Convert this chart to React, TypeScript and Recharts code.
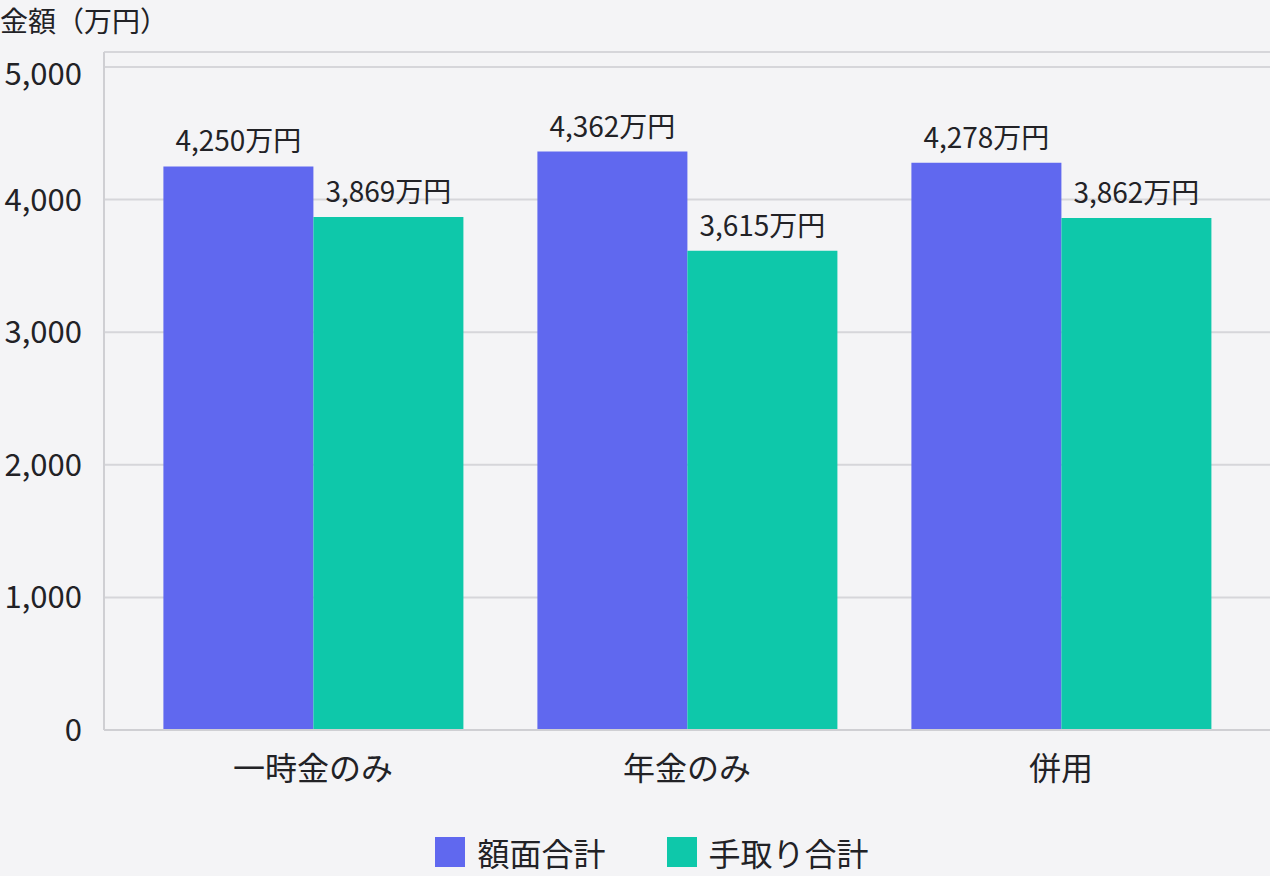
import { Bar, BarChart, CartesianGrid, LabelList, Legend, XAxis, YAxis } from 'recharts';

const categories = ['一時金のみ', '年金のみ', '併用'];
const grossTotal = [4250, 4362, 4278];
const netTotal = [3869, 3615, 3862];
const yTicks = [0, 1000, 2000, 3000, 4000, 5000];

const series = [
  { key: 'gross', name: '額面合計', color: '#6068ef' },
  { key: 'net', name: '手取り合計', color: '#0ec8aa' },
];

const rows = categories.map((name, i) => ({ name, gross: grossTotal[i], net: netTotal[i] }));

const font = '"Noto Sans CJK JP", "Noto Sans", sans-serif';
const ink = '#222226';

function LegendBox() {
  return (
    <div style={{ display: 'flex', justifyContent: 'center', paddingTop: 6, paddingLeft: 34, height: 46, boxSizing: 'border-box' }}>
      {series.map((s) => (
        <div key={s.key} style={{ display: 'flex', alignItems: 'center', height: 32, marginRight: s.key === 'gross' ? 61 : 0 }}>
          <span style={{ width: 30, height: 30, background: s.color, display: 'inline-block', marginRight: 12 }} />
          <span style={{ fontFamily: font, fontSize: 32, color: ink, lineHeight: '32px' }}>{s.name}</span>
        </div>
      ))}
    </div>
  );
}

// top label sits a little below its gridline in the original
function YTick({ x, y, payload }: { x: number; y: number; payload: { value: number } }) {
  const shift = payload.value === yTicks[yTicks.length - 1] ? 7 : 0;
  return (
    <text x={x} y={y + shift} dy="0.355em" textAnchor="end" fill={ink} fontSize={31} fontFamily={font}>
      {payload.value.toLocaleString('en-US')}
    </text>
  );
}

export default function App() {
  return (
    <div style={{ position: 'absolute', left: 0, top: 0, width: 1270, height: 876, background: '#f4f4f6', fontFamily: font }}>
      <div style={{ position: 'absolute', left: 0, top: 1, fontSize: 28, color: ink, lineHeight: '38px' }}>金額（万円）</div>
      <BarChart
        width={1270}
        height={876}
        data={rows}
        margin={{ top: 52, right: 0, left: 0, bottom: 0 }}
        barCategoryGap="10%"
        barGap={0}
      >
        <CartesianGrid vertical={false} stroke="#d6d6da" strokeWidth={2} />
        <XAxis
          dataKey="name"
          height={100}
          padding={{ left: 22, right: 22 }}
          tickLine={false}
          tickSize={0}
          tickMargin={27}
          axisLine={{ stroke: '#cfcfd3', strokeWidth: 2 }}
          tick={{ fill: ink, fontSize: 32, fontFamily: font }}
        />
        <YAxis
          width={104}
          domain={[0, 5000]}
          ticks={yTicks}
          padding={{ top: 15 }}
          tickLine={false}
          tickSize={0}
          tickMargin={22}
          axisLine={{ stroke: '#cfcfd3', strokeWidth: 2 }}
          tick={(props: any) => <YTick {...props} />}
        />
        <Legend verticalAlign="bottom" content={() => <LegendBox />} />
        {series.map((s) => (
          <Bar key={s.key} dataKey={s.key} name={s.name} fill={s.color} isAnimationActive={false}>
            <LabelList
              dataKey={s.key}
              position="top"
              offset={15}
              formatter={(v: number) => `${v.toLocaleString('en-US')}万円`}
              style={{ fill: ink, fontSize: 28, fontFamily: font }}
            />
          </Bar>
        ))}
      </BarChart>
    </div>
  );
}
